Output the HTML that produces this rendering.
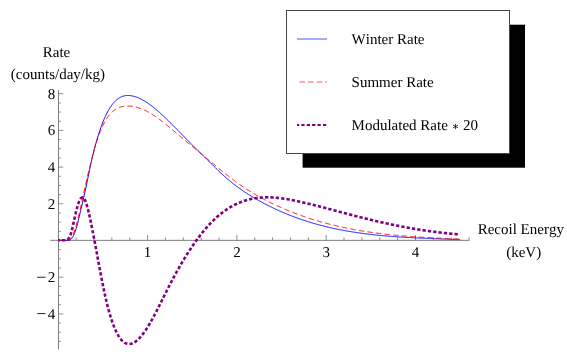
<!DOCTYPE html>
<html><head><meta charset="utf-8">
<style>
html,body{margin:0;padding:0;background:#fff;}
body{width:567px;height:360px;overflow:hidden;}
svg{display:block;}
text{font-family:"Liberation Serif",serif;font-size:15px;fill:#000;text-rendering:geometricPrecision;font-kerning:none;}
</style></head><body>
<svg width="567" height="360" viewBox="0 0 567 360">
<defs><filter id="idf" x="0" y="0" width="567" height="360" filterUnits="userSpaceOnUse"><feOffset dx="0" dy="0"/></filter></defs>
<rect width="567" height="360" fill="#fff"/>
<!-- axes -->
<g fill="none">
<path d="M50.3,240.35 H469.4" stroke="#7e7e7e" stroke-width="1"/>
<path d="M58.5,90.2 V349.3" stroke="#7e7e7e" stroke-width="1"/>
<path d="M76.16,240.30 v-3.0 M94.02,240.30 v-3.0 M111.88,240.30 v-3.0 M129.74,240.30 v-3.0 M147.60,240.30 v-5.3 M165.46,240.30 v-3.0 M183.32,240.30 v-3.0 M201.18,240.30 v-3.0 M219.04,240.30 v-3.0 M236.90,240.30 v-5.3 M254.76,240.30 v-3.0 M272.62,240.30 v-3.0 M290.48,240.30 v-3.0 M308.34,240.30 v-3.0 M326.20,240.30 v-5.3 M344.06,240.30 v-3.0 M361.92,240.30 v-3.0 M379.78,240.30 v-3.0 M397.64,240.30 v-3.0 M415.50,240.30 v-5.3 M433.36,240.30 v-3.0 M451.22,240.30 v-3.0 M469.08,240.30 v-3.0 M58.50,341.43 h2.4 M58.50,332.25 h2.4 M58.50,323.07 h2.4 M58.50,313.90 h4.8 M58.50,304.73 h2.4 M58.50,295.55 h2.4 M58.50,286.38 h2.4 M58.50,277.20 h4.8 M58.50,268.02 h2.4 M58.50,258.85 h2.4 M58.50,249.68 h2.4 M58.50,231.32 h2.4 M58.50,222.15 h2.4 M58.50,212.97 h2.4 M58.50,203.80 h4.8 M58.50,194.62 h2.4 M58.50,185.45 h2.4 M58.50,176.27 h2.4 M58.50,167.10 h4.8 M58.50,157.93 h2.4 M58.50,148.75 h2.4 M58.50,139.57 h2.4 M58.50,130.40 h4.8 M58.50,121.23 h2.4 M58.50,112.05 h2.4 M58.50,102.88 h2.4 M58.50,93.70 h4.8" stroke="#727272" stroke-width="0.8"/>
</g>
<!-- curves -->
<path d="M58.30,240.30 L58.75,240.30 L59.19,240.30 L59.64,240.30 L60.09,240.30 L60.54,240.30 L60.98,240.30 L61.43,240.30 L61.88,240.30 L62.32,240.29 L62.77,240.26 L63.22,240.24 L63.66,240.22 L64.11,240.21 L64.56,240.21 L65.01,240.21 L65.45,240.23 L65.90,240.26 L66.35,240.30 L66.79,240.30 L67.24,240.30 L67.69,240.30 L68.14,240.30 L68.58,240.30 L69.03,240.30 L69.48,240.24 L69.92,240.05 L70.37,239.80 L70.82,239.46 L71.26,239.04 L71.71,238.53 L72.16,237.92 L72.61,237.23 L73.05,236.45 L73.50,235.58 L73.95,234.62 L74.39,233.58 L74.84,232.44 L75.29,231.21 L75.74,229.90 L76.18,228.49 L76.63,226.99 L77.08,225.41 L77.52,223.73 L77.97,221.97 L78.42,220.15 L78.86,218.28 L79.31,216.38 L79.76,214.46 L80.21,212.53 L80.65,210.61 L81.10,208.71 L81.55,206.84 L81.99,204.97 L82.44,203.10 L82.89,201.22 L83.33,199.32 L83.78,197.40 L84.23,195.43 L84.68,193.42 L85.12,191.35 L85.57,189.24 L86.02,187.10 L86.46,184.93 L86.91,182.74 L87.36,180.53 L87.81,178.33 L88.25,176.13 L88.70,173.94 L89.15,171.77 L89.59,169.63 L90.04,167.53 L90.49,165.47 L90.93,163.44 L91.38,161.45 L91.83,159.50 L92.28,157.58 L92.72,155.70 L93.17,153.86 L93.62,152.05 L94.06,150.28 L94.51,148.55 L94.96,146.85 L95.41,145.18 L95.85,143.55 L96.30,141.95 L96.75,140.38 L97.19,138.85 L97.64,137.35 L98.09,135.89 L98.53,134.46 L98.98,133.05 L99.43,131.69 L99.88,130.35 L100.32,129.04 L100.77,127.77 L101.22,126.52 L101.66,125.30 L102.11,124.12 L102.56,122.96 L103.01,121.84 L103.45,120.74 L103.90,119.67 L104.35,118.63 L104.79,117.61 L105.24,116.63 L105.69,115.67 L106.13,114.74 L106.58,113.83 L107.03,112.96 L107.48,112.10 L107.92,111.28 L108.37,110.48 L108.82,109.70 L109.26,108.95 L109.71,108.22 L110.16,107.52 L110.61,106.84 L111.05,106.18 L111.50,105.55 L111.95,104.94 L112.39,104.35 L112.84,103.79 L113.29,103.24 L113.73,102.72 L114.18,102.22 L114.63,101.74 L115.08,101.28 L115.52,100.84 L115.97,100.42 L116.42,100.02 L116.86,99.64 L117.31,99.28 L117.76,98.94 L118.21,98.61 L118.65,98.31 L119.10,98.02 L119.55,97.75 L119.99,97.49 L120.44,97.26 L120.89,97.04 L121.33,96.83 L121.78,96.64 L122.23,96.47 L122.68,96.31 L123.12,96.17 L123.57,96.04 L124.02,95.92 L124.46,95.82 L124.91,95.73 L125.36,95.66 L125.80,95.60 L126.25,95.55 L126.70,95.51 L127.15,95.49 L127.59,95.47 L128.04,95.47 L128.49,95.48 L128.93,95.50 L129.38,95.53 L129.83,95.57 L130.28,95.62 L130.72,95.68 L131.17,95.75 L131.62,95.82 L132.06,95.91 L132.51,96.00 L132.96,96.11 L133.40,96.21 L133.85,96.33 L134.30,96.45 L134.75,96.58 L135.19,96.72 L135.64,96.87 L136.09,97.02 L136.53,97.17 L136.98,97.34 L137.43,97.51 L137.88,97.69 L138.32,97.87 L138.77,98.06 L139.22,98.26 L139.66,98.46 L140.11,98.67 L140.56,98.88 L141.00,99.11 L141.45,99.33 L141.90,99.56 L142.35,99.80 L142.79,100.05 L143.24,100.30 L143.69,100.55 L144.13,100.81 L144.58,101.08 L145.03,101.35 L145.48,101.62 L145.92,101.90 L146.37,102.19 L146.82,102.48 L147.26,102.78 L147.71,103.08 L148.16,103.38 L148.60,103.69 L149.05,104.01 L149.50,104.33 L149.95,104.65 L150.39,104.98 L150.84,105.31 L151.29,105.64 L151.73,105.98 L152.18,106.33 L152.63,106.68 L153.08,107.03 L153.52,107.38 L153.97,107.74 L154.42,108.11 L154.86,108.47 L155.31,108.84 L155.76,109.21 L156.20,109.59 L156.65,109.97 L157.10,110.35 L157.55,110.74 L157.99,111.13 L158.44,111.52 L158.89,111.91 L159.33,112.31 L159.78,112.71 L160.23,113.11 L160.67,113.52 L161.12,113.92 L161.57,114.33 L162.02,114.75 L162.46,115.16 L162.91,115.57 L163.36,115.99 L163.80,116.41 L164.25,116.83 L164.70,117.26 L165.15,117.68 L165.59,118.11 L166.04,118.54 L166.49,118.97 L166.93,119.40 L167.38,119.83 L167.83,120.27 L168.27,120.70 L168.72,121.14 L169.17,121.58 L169.62,122.02 L170.06,122.46 L170.51,122.90 L170.96,123.35 L171.40,123.79 L171.85,124.24 L172.30,124.68 L172.75,125.13 L173.19,125.58 L173.64,126.03 L174.09,126.48 L174.53,126.93 L174.98,127.38 L175.43,127.83 L175.87,128.29 L176.32,128.74 L176.77,129.20 L177.22,129.65 L177.66,130.11 L178.11,130.56 L178.56,131.02 L179.00,131.47 L179.45,131.93 L179.90,132.39 L180.35,132.85 L180.79,133.31 L181.24,133.76 L181.69,134.22 L182.13,134.68 L182.58,135.14 L183.03,135.60 L183.47,136.06 L183.92,136.51 L184.37,136.97 L184.82,137.43 L185.26,137.89 L185.71,138.35 L186.16,138.80 L186.60,139.26 L187.05,139.72 L187.50,140.18 L187.95,140.63 L188.39,141.09 L188.84,141.54 L189.29,142.00 L189.73,142.45 L190.18,142.90 L190.63,143.36 L191.07,143.81 L191.52,144.26 L191.97,144.71 L192.42,145.16 L192.86,145.61 L193.31,146.06 L193.76,146.50 L194.20,146.95 L194.65,147.39 L195.10,147.84 L195.55,148.28 L195.99,148.72 L196.44,149.16 L196.89,149.60 L197.33,150.04 L197.78,150.47 L198.23,150.91 L198.67,151.34 L199.12,151.78 L199.57,152.21 L200.02,152.63 L200.46,153.06 L200.91,153.49 L201.36,153.91 L201.80,154.34 L202.25,154.76 L202.70,155.19 L203.14,155.61 L203.59,156.04 L204.04,156.47 L204.49,156.90 L204.93,157.33 L205.38,157.76 L205.83,158.20 L206.27,158.64 L206.72,159.08 L207.17,159.52 L207.62,159.96 L208.06,160.41 L208.51,160.85 L208.96,161.30 L209.40,161.75 L209.85,162.20 L210.30,162.65 L210.74,163.10 L211.19,163.55 L211.64,164.00 L212.09,164.45 L212.53,164.90 L212.98,165.35 L213.43,165.80 L213.87,166.25 L214.32,166.70 L214.77,167.15 L215.22,167.59 L215.66,168.04 L216.11,168.49 L216.56,168.93 L217.00,169.37 L217.45,169.81 L217.90,170.25 L218.34,170.68 L218.79,171.12 L219.24,171.55 L219.69,171.98 L220.13,172.40 L220.58,172.82 L221.03,173.24 L221.47,173.66 L221.92,174.08 L222.37,174.49 L222.82,174.90 L223.26,175.30 L223.71,175.71 L224.16,176.11 L224.60,176.51 L225.05,176.90 L225.50,177.29 L225.94,177.69 L226.39,178.07 L226.84,178.46 L227.29,178.84 L227.73,179.22 L228.18,179.60 L228.63,179.97 L229.07,180.35 L229.52,180.72 L229.97,181.08 L230.42,181.45 L230.86,181.81 L231.31,182.17 L231.76,182.53 L232.20,182.89 L232.65,183.24 L233.10,183.59 L233.54,183.94 L233.99,184.29 L234.44,184.63 L234.89,184.97 L235.33,185.31 L235.78,185.65 L236.23,185.99 L236.67,186.32 L237.12,186.65 L237.57,186.98 L238.02,187.31 L238.46,187.63 L238.91,187.96 L239.36,188.28 L239.80,188.60 L240.25,188.91 L240.70,189.23 L241.14,189.54 L241.59,189.85 L242.04,190.16 L242.49,190.47 L242.93,190.77 L243.38,191.08 L243.83,191.38 L244.27,191.68 L244.72,191.98 L245.17,192.27 L245.61,192.57 L246.06,192.86 L246.51,193.15 L246.96,193.44 L247.40,193.73 L247.85,194.01 L248.30,194.30 L248.74,194.58 L249.19,194.86 L249.64,195.14 L250.09,195.42 L250.53,195.69 L250.98,195.97 L251.43,196.24 L251.87,196.51 L252.32,196.78 L252.77,197.05 L253.21,197.32 L253.66,197.58 L254.11,197.84 L254.56,198.11 L255.00,198.37 L255.45,198.63 L255.90,198.89 L256.34,199.14 L256.79,199.40 L257.24,199.65 L257.69,199.91 L258.13,200.16 L258.58,200.41 L259.03,200.66 L259.47,200.91 L259.92,201.16 L260.37,201.40 L260.81,201.65 L261.26,201.89 L261.71,202.13 L262.16,202.38 L262.60,202.62 L263.05,202.86 L263.50,203.09 L263.94,203.33 L264.39,203.57 L264.84,203.80 L265.29,204.04 L265.73,204.27 L266.18,204.50 L266.63,204.73 L267.07,204.96 L267.52,205.19 L267.97,205.41 L268.41,205.64 L268.86,205.86 L269.31,206.09 L269.76,206.31 L270.20,206.53 L270.65,206.75 L271.10,206.97 L271.54,207.19 L271.99,207.41 L272.44,207.62 L272.89,207.84 L273.33,208.05 L273.78,208.27 L274.23,208.48 L274.67,208.69 L275.12,208.90 L275.57,209.11 L276.01,209.31 L276.46,209.52 L276.91,209.73 L277.36,209.93 L277.80,210.13 L278.25,210.34 L278.70,210.54 L279.14,210.74 L279.59,210.94 L280.04,211.14 L280.48,211.33 L280.93,211.53 L281.38,211.73 L281.83,211.92 L282.27,212.11 L282.72,212.30 L283.17,212.50 L283.61,212.69 L284.06,212.88 L284.51,213.06 L284.96,213.25 L285.40,213.44 L285.85,213.62 L286.30,213.81 L286.74,213.99 L287.19,214.17 L287.64,214.35 L288.08,214.53 L288.53,214.71 L288.98,214.89 L289.43,215.07 L289.87,215.25 L290.32,215.42 L290.77,215.60 L291.21,215.77 L291.66,215.94 L292.11,216.12 L292.56,216.29 L293.00,216.46 L293.45,216.63 L293.90,216.79 L294.34,216.96 L294.79,217.13 L295.24,217.29 L295.68,217.46 L296.13,217.62 L296.58,217.78 L297.03,217.94 L297.47,218.11 L297.92,218.27 L298.37,218.42 L298.81,218.58 L299.26,218.74 L299.71,218.90 L300.16,219.05 L300.60,219.21 L301.05,219.36 L301.50,219.51 L301.94,219.66 L302.39,219.82 L302.84,219.97 L303.28,220.11 L303.73,220.26 L304.18,220.41 L304.63,220.56 L305.07,220.70 L305.52,220.85 L305.97,220.99 L306.41,221.14 L306.86,221.28 L307.31,221.42 L307.76,221.56 L308.20,221.70 L308.65,221.84 L309.10,221.98 L309.54,222.12 L309.99,222.25 L310.44,222.39 L310.88,222.52 L311.33,222.66 L311.78,222.79 L312.23,222.92 L312.67,223.06 L313.12,223.19 L313.57,223.32 L314.01,223.45 L314.46,223.58 L314.91,223.70 L315.36,223.83 L315.80,223.96 L316.25,224.08 L316.70,224.21 L317.14,224.33 L317.59,224.45 L318.04,224.58 L318.48,224.70 L318.93,224.82 L319.38,224.94 L319.83,225.06 L320.27,225.18 L320.72,225.29 L321.17,225.41 L321.61,225.53 L322.06,225.64 L322.51,225.76 L322.95,225.87 L323.40,225.99 L323.85,226.10 L324.30,226.21 L324.74,226.32 L325.19,226.43 L325.64,226.54 L326.08,226.65 L326.53,226.76 L326.98,226.87 L327.43,226.98 L327.87,227.08 L328.32,227.19 L328.77,227.29 L329.21,227.40 L329.66,227.50 L330.11,227.60 L330.55,227.70 L331.00,227.81 L331.45,227.91 L331.90,228.01 L332.34,228.11 L332.79,228.21 L333.24,228.30 L333.68,228.40 L334.13,228.50 L334.58,228.59 L335.03,228.69 L335.47,228.78 L335.92,228.88 L336.37,228.97 L336.81,229.06 L337.26,229.16 L337.71,229.25 L338.15,229.34 L338.60,229.43 L339.05,229.52 L339.50,229.61 L339.94,229.70 L340.39,229.78 L340.84,229.87 L341.28,229.96 L341.73,230.04 L342.18,230.13 L342.63,230.21 L343.07,230.30 L343.52,230.38 L343.97,230.46 L344.41,230.54 L344.86,230.63 L345.31,230.71 L345.75,230.79 L346.20,230.87 L346.65,230.95 L347.10,231.03 L347.54,231.10 L347.99,231.18 L348.44,231.26 L348.88,231.33 L349.33,231.41 L349.78,231.49 L350.23,231.56 L350.67,231.63 L351.12,231.71 L351.57,231.78 L352.01,231.85 L352.46,231.92 L352.91,232.00 L353.35,232.07 L353.80,232.14 L354.25,232.21 L354.70,232.28 L355.14,232.34 L355.59,232.41 L356.04,232.48 L356.48,232.55 L356.93,232.61 L357.38,232.68 L357.83,232.74 L358.27,232.81 L358.72,232.87 L359.17,232.94 L359.61,233.00 L360.06,233.06 L360.51,233.13 L360.95,233.19 L361.40,233.25 L361.85,233.31 L362.30,233.37 L362.74,233.43 L363.19,233.49 L363.64,233.55 L364.08,233.61 L364.53,233.67 L364.98,233.72 L365.42,233.78 L365.87,233.84 L366.32,233.89 L366.77,233.95 L367.21,234.00 L367.66,234.06 L368.11,234.11 L368.55,234.17 L369.00,234.22 L369.45,234.27 L369.90,234.33 L370.34,234.38 L370.79,234.43 L371.24,234.48 L371.68,234.53 L372.13,234.58 L372.58,234.63 L373.02,234.68 L373.47,234.73 L373.92,234.78 L374.37,234.83 L374.81,234.87 L375.26,234.92 L375.71,234.97 L376.15,235.01 L376.60,235.06 L377.05,235.11 L377.50,235.15 L377.94,235.20 L378.39,235.24 L378.84,235.29 L379.28,235.33 L379.73,235.37 L380.18,235.42 L380.62,235.46 L381.07,235.50 L381.52,235.54 L381.97,235.58 L382.41,235.63 L382.86,235.67 L383.31,235.71 L383.75,235.75 L384.20,235.79 L384.65,235.83 L385.10,235.87 L385.54,235.90 L385.99,235.94 L386.44,235.98 L386.88,236.02 L387.33,236.06 L387.78,236.09 L388.22,236.13 L388.67,236.17 L389.12,236.20 L389.57,236.24 L390.01,236.27 L390.46,236.31 L390.91,236.34 L391.35,236.38 L391.80,236.41 L392.25,236.44 L392.70,236.48 L393.14,236.51 L393.59,236.54 L394.04,236.58 L394.48,236.61 L394.93,236.64 L395.38,236.67 L395.82,236.70 L396.27,236.74 L396.72,236.77 L397.17,236.80 L397.61,236.83 L398.06,236.86 L398.51,236.89 L398.95,236.92 L399.40,236.95 L399.85,236.98 L400.29,237.00 L400.74,237.03 L401.19,237.06 L401.64,237.09 L402.08,237.12 L402.53,237.15 L402.98,237.17 L403.42,237.20 L403.87,237.23 L404.32,237.25 L404.77,237.28 L405.21,237.31 L405.66,237.33 L406.11,237.36 L406.55,237.38 L407.00,237.41 L407.45,237.43 L407.89,237.46 L408.34,237.48 L408.79,237.51 L409.24,237.53 L409.68,237.56 L410.13,237.58 L410.58,237.60 L411.02,237.63 L411.47,237.65 L411.92,237.67 L412.37,237.70 L412.81,237.72 L413.26,237.74 L413.71,237.76 L414.15,237.79 L414.60,237.81 L415.05,237.83 L415.49,237.85 L415.94,237.87 L416.39,237.90 L416.84,237.92 L417.28,237.94 L417.73,237.96 L418.18,237.98 L418.62,238.00 L419.07,238.02 L419.52,238.04 L419.97,238.06 L420.41,238.08 L420.86,238.10 L421.31,238.12 L421.75,238.14 L422.20,238.16 L422.65,238.18 L423.09,238.20 L423.54,238.22 L423.99,238.24 L424.44,238.26 L424.88,238.28 L425.33,238.30 L425.78,238.32 L426.22,238.33 L426.67,238.35 L427.12,238.37 L427.57,238.39 L428.01,238.41 L428.46,238.43 L428.91,238.45 L429.35,238.46 L429.80,238.48 L430.25,238.50 L430.69,238.52 L431.14,238.54 L431.59,238.55 L432.04,238.57 L432.48,238.59 L432.93,238.61 L433.38,238.62 L433.82,238.64 L434.27,238.66 L434.72,238.68 L435.17,238.69 L435.61,238.71 L436.06,238.73 L436.51,238.75 L436.95,238.76 L437.40,238.78 L437.85,238.80 L438.29,238.82 L438.74,238.83 L439.19,238.85 L439.64,238.87 L440.08,238.88 L440.53,238.90 L440.98,238.92 L441.42,238.94 L441.87,238.95 L442.32,238.97 L442.76,238.99 L443.21,239.01 L443.66,239.02 L444.11,239.04 L444.55,239.06 L445.00,239.07 L445.45,239.09 L445.89,239.11 L446.34,239.13 L446.79,239.14 L447.24,239.16 L447.68,239.18 L448.13,239.20 L448.58,239.21 L449.02,239.23 L449.47,239.25 L449.92,239.27 L450.36,239.28 L450.81,239.30 L451.26,239.32 L451.71,239.34 L452.15,239.36 L452.60,239.37 L453.05,239.39 L453.49,239.41 L453.94,239.43 L454.39,239.45 L454.84,239.47 L455.28,239.48 L455.73,239.50 L456.18,239.52 L456.62,239.54 L457.07,239.56 L457.52,239.58 L457.96,239.60 L458.41,239.62 L458.86,239.64 L459.31,239.66 L459.75,239.68 L460.20,239.70" fill="none" stroke="#0000ff" stroke-width="1"/>
<path d="M58.30,240.30 L58.75,240.30 L59.19,240.30 L59.64,240.30 L60.09,240.30 L60.54,240.30 L60.98,240.30 L61.43,240.30 L61.88,240.30 L62.32,240.30 L62.77,240.30 L63.22,240.30 L63.66,240.30 L64.11,240.30 L64.56,240.30 L65.01,240.30 L65.45,240.30 L65.90,240.30 L66.35,240.30 L66.79,240.30 L67.24,240.30 L67.69,240.30 L68.14,240.30 L68.58,240.17 L69.03,239.96 L69.48,239.70 L69.92,239.36 L70.37,238.95 L70.82,238.46 L71.26,237.87 L71.71,237.19 L72.16,236.41 L72.61,235.53 L73.05,234.55 L73.50,233.48 L73.95,232.33 L74.39,231.09 L74.84,229.77 L75.29,228.38 L75.74,226.92 L76.18,225.39 L76.63,223.80 L77.08,222.15 L77.52,220.45 L77.97,218.69 L78.42,216.89 L78.86,215.05 L79.31,213.17 L79.76,211.25 L80.21,209.31 L80.65,207.34 L81.10,205.34 L81.55,203.33 L81.99,201.31 L82.44,199.27 L82.89,197.23 L83.33,195.19 L83.78,193.15 L84.23,191.11 L84.68,189.08 L85.12,187.06 L85.57,185.05 L86.02,183.05 L86.46,181.06 L86.91,179.09 L87.36,177.12 L87.81,175.17 L88.25,173.24 L88.70,171.33 L89.15,169.43 L89.59,167.56 L90.04,165.70 L90.49,163.87 L90.93,162.06 L91.38,160.28 L91.83,158.52 L92.28,156.79 L92.72,155.09 L93.17,153.42 L93.62,151.77 L94.06,150.16 L94.51,148.59 L94.96,147.04 L95.41,145.54 L95.85,144.06 L96.30,142.63 L96.75,141.23 L97.19,139.87 L97.64,138.55 L98.09,137.26 L98.53,136.01 L98.98,134.78 L99.43,133.60 L99.88,132.45 L100.32,131.32 L100.77,130.24 L101.22,129.18 L101.66,128.16 L102.11,127.16 L102.56,126.20 L103.01,125.27 L103.45,124.36 L103.90,123.49 L104.35,122.64 L104.79,121.82 L105.24,121.03 L105.69,120.27 L106.13,119.53 L106.58,118.82 L107.03,118.14 L107.48,117.48 L107.92,116.84 L108.37,116.23 L108.82,115.64 L109.26,115.08 L109.71,114.54 L110.16,114.02 L110.61,113.52 L111.05,113.04 L111.50,112.59 L111.95,112.15 L112.39,111.74 L112.84,111.34 L113.29,110.96 L113.73,110.61 L114.18,110.27 L114.63,109.94 L115.08,109.64 L115.52,109.34 L115.97,109.07 L116.42,108.81 L116.86,108.57 L117.31,108.34 L117.76,108.12 L118.21,107.92 L118.65,107.73 L119.10,107.56 L119.55,107.39 L119.99,107.24 L120.44,107.10 L120.89,106.97 L121.33,106.85 L121.78,106.74 L122.23,106.64 L122.68,106.54 L123.12,106.46 L123.57,106.38 L124.02,106.31 L124.46,106.25 L124.91,106.20 L125.36,106.15 L125.80,106.11 L126.25,106.08 L126.70,106.05 L127.15,106.03 L127.59,106.02 L128.04,106.02 L128.49,106.02 L128.93,106.03 L129.38,106.04 L129.83,106.07 L130.28,106.10 L130.72,106.13 L131.17,106.18 L131.62,106.22 L132.06,106.28 L132.51,106.34 L132.96,106.41 L133.40,106.48 L133.85,106.56 L134.30,106.65 L134.75,106.74 L135.19,106.84 L135.64,106.94 L136.09,107.05 L136.53,107.17 L136.98,107.29 L137.43,107.42 L137.88,107.55 L138.32,107.69 L138.77,107.83 L139.22,107.98 L139.66,108.14 L140.11,108.30 L140.56,108.46 L141.00,108.63 L141.45,108.81 L141.90,108.99 L142.35,109.17 L142.79,109.36 L143.24,109.56 L143.69,109.76 L144.13,109.96 L144.58,110.17 L145.03,110.38 L145.48,110.60 L145.92,110.82 L146.37,111.05 L146.82,111.28 L147.26,111.52 L147.71,111.76 L148.16,112.00 L148.60,112.25 L149.05,112.50 L149.50,112.76 L149.95,113.02 L150.39,113.28 L150.84,113.55 L151.29,113.82 L151.73,114.09 L152.18,114.37 L152.63,114.65 L153.08,114.94 L153.52,115.23 L153.97,115.52 L154.42,115.82 L154.86,116.11 L155.31,116.42 L155.76,116.72 L156.20,117.03 L156.65,117.34 L157.10,117.65 L157.55,117.97 L157.99,118.29 L158.44,118.61 L158.89,118.94 L159.33,119.26 L159.78,119.59 L160.23,119.93 L160.67,120.26 L161.12,120.60 L161.57,120.94 L162.02,121.28 L162.46,121.62 L162.91,121.97 L163.36,122.32 L163.80,122.67 L164.25,123.02 L164.70,123.37 L165.15,123.73 L165.59,124.09 L166.04,124.45 L166.49,124.81 L166.93,125.17 L167.38,125.53 L167.83,125.90 L168.27,126.26 L168.72,126.63 L169.17,127.00 L169.62,127.37 L170.06,127.74 L170.51,128.11 L170.96,128.48 L171.40,128.86 L171.85,129.23 L172.30,129.61 L172.75,129.99 L173.19,130.36 L173.64,130.74 L174.09,131.12 L174.53,131.50 L174.98,131.88 L175.43,132.26 L175.87,132.64 L176.32,133.02 L176.77,133.40 L177.22,133.78 L177.66,134.16 L178.11,134.54 L178.56,134.92 L179.00,135.30 L179.45,135.68 L179.90,136.06 L180.35,136.43 L180.79,136.81 L181.24,137.19 L181.69,137.57 L182.13,137.95 L182.58,138.32 L183.03,138.70 L183.47,139.08 L183.92,139.45 L184.37,139.83 L184.82,140.20 L185.26,140.58 L185.71,140.95 L186.16,141.32 L186.60,141.70 L187.05,142.07 L187.50,142.44 L187.95,142.81 L188.39,143.19 L188.84,143.56 L189.29,143.93 L189.73,144.30 L190.18,144.67 L190.63,145.04 L191.07,145.41 L191.52,145.78 L191.97,146.15 L192.42,146.52 L192.86,146.89 L193.31,147.26 L193.76,147.63 L194.20,148.00 L194.65,148.37 L195.10,148.74 L195.55,149.11 L195.99,149.48 L196.44,149.85 L196.89,150.22 L197.33,150.59 L197.78,150.96 L198.23,151.33 L198.67,151.70 L199.12,152.06 L199.57,152.43 L200.02,152.80 L200.46,153.17 L200.91,153.54 L201.36,153.91 L201.80,154.28 L202.25,154.65 L202.70,155.02 L203.14,155.39 L203.59,155.76 L204.04,156.13 L204.49,156.50 L204.93,156.87 L205.38,157.24 L205.83,157.62 L206.27,157.99 L206.72,158.36 L207.17,158.73 L207.62,159.10 L208.06,159.48 L208.51,159.85 L208.96,160.22 L209.40,160.59 L209.85,160.96 L210.30,161.34 L210.74,161.71 L211.19,162.08 L211.64,162.45 L212.09,162.82 L212.53,163.20 L212.98,163.57 L213.43,163.94 L213.87,164.31 L214.32,164.68 L214.77,165.05 L215.22,165.42 L215.66,165.79 L216.11,166.16 L216.56,166.53 L217.00,166.90 L217.45,167.26 L217.90,167.63 L218.34,168.00 L218.79,168.37 L219.24,168.73 L219.69,169.10 L220.13,169.46 L220.58,169.83 L221.03,170.19 L221.47,170.56 L221.92,170.92 L222.37,171.28 L222.82,171.64 L223.26,172.00 L223.71,172.36 L224.16,172.72 L224.60,173.08 L225.05,173.43 L225.50,173.79 L225.94,174.15 L226.39,174.50 L226.84,174.85 L227.29,175.21 L227.73,175.56 L228.18,175.91 L228.63,176.26 L229.07,176.61 L229.52,176.95 L229.97,177.30 L230.42,177.65 L230.86,177.99 L231.31,178.33 L231.76,178.67 L232.20,179.01 L232.65,179.35 L233.10,179.69 L233.54,180.03 L233.99,180.36 L234.44,180.70 L234.89,181.03 L235.33,181.36 L235.78,181.69 L236.23,182.02 L236.67,182.34 L237.12,182.67 L237.57,182.99 L238.02,183.31 L238.46,183.63 L238.91,183.95 L239.36,184.27 L239.80,184.58 L240.25,184.90 L240.70,185.21 L241.14,185.52 L241.59,185.83 L242.04,186.13 L242.49,186.44 L242.93,186.74 L243.38,187.05 L243.83,187.35 L244.27,187.64 L244.72,187.94 L245.17,188.24 L245.61,188.53 L246.06,188.82 L246.51,189.11 L246.96,189.40 L247.40,189.69 L247.85,189.98 L248.30,190.26 L248.74,190.55 L249.19,190.83 L249.64,191.11 L250.09,191.39 L250.53,191.66 L250.98,191.94 L251.43,192.21 L251.87,192.48 L252.32,192.76 L252.77,193.03 L253.21,193.29 L253.66,193.56 L254.11,193.83 L254.56,194.09 L255.00,194.35 L255.45,194.61 L255.90,194.87 L256.34,195.13 L256.79,195.39 L257.24,195.65 L257.69,195.90 L258.13,196.15 L258.58,196.41 L259.03,196.66 L259.47,196.90 L259.92,197.15 L260.37,197.40 L260.81,197.64 L261.26,197.89 L261.71,198.13 L262.16,198.37 L262.60,198.61 L263.05,198.85 L263.50,199.09 L263.94,199.33 L264.39,199.56 L264.84,199.80 L265.29,200.03 L265.73,200.26 L266.18,200.49 L266.63,200.72 L267.07,200.95 L267.52,201.18 L267.97,201.40 L268.41,201.63 L268.86,201.85 L269.31,202.07 L269.76,202.30 L270.20,202.52 L270.65,202.74 L271.10,202.95 L271.54,203.17 L271.99,203.39 L272.44,203.60 L272.89,203.82 L273.33,204.03 L273.78,204.24 L274.23,204.45 L274.67,204.66 L275.12,204.87 L275.57,205.08 L276.01,205.29 L276.46,205.50 L276.91,205.70 L277.36,205.90 L277.80,206.11 L278.25,206.31 L278.70,206.51 L279.14,206.71 L279.59,206.91 L280.04,207.11 L280.48,207.31 L280.93,207.51 L281.38,207.70 L281.83,207.90 L282.27,208.09 L282.72,208.29 L283.17,208.48 L283.61,208.67 L284.06,208.86 L284.51,209.05 L284.96,209.24 L285.40,209.43 L285.85,209.62 L286.30,209.81 L286.74,209.99 L287.19,210.18 L287.64,210.36 L288.08,210.54 L288.53,210.73 L288.98,210.91 L289.43,211.09 L289.87,211.27 L290.32,211.45 L290.77,211.63 L291.21,211.80 L291.66,211.98 L292.11,212.16 L292.56,212.33 L293.00,212.51 L293.45,212.68 L293.90,212.85 L294.34,213.03 L294.79,213.20 L295.24,213.37 L295.68,213.54 L296.13,213.70 L296.58,213.87 L297.03,214.04 L297.47,214.21 L297.92,214.37 L298.37,214.54 L298.81,214.70 L299.26,214.86 L299.71,215.02 L300.16,215.19 L300.60,215.35 L301.05,215.51 L301.50,215.67 L301.94,215.82 L302.39,215.98 L302.84,216.14 L303.28,216.29 L303.73,216.45 L304.18,216.60 L304.63,216.76 L305.07,216.91 L305.52,217.06 L305.97,217.22 L306.41,217.37 L306.86,217.52 L307.31,217.67 L307.76,217.81 L308.20,217.96 L308.65,218.11 L309.10,218.25 L309.54,218.40 L309.99,218.54 L310.44,218.69 L310.88,218.83 L311.33,218.97 L311.78,219.12 L312.23,219.26 L312.67,219.40 L313.12,219.54 L313.57,219.68 L314.01,219.82 L314.46,219.95 L314.91,220.09 L315.36,220.23 L315.80,220.36 L316.25,220.50 L316.70,220.63 L317.14,220.76 L317.59,220.90 L318.04,221.03 L318.48,221.16 L318.93,221.29 L319.38,221.42 L319.83,221.55 L320.27,221.68 L320.72,221.80 L321.17,221.93 L321.61,222.06 L322.06,222.18 L322.51,222.31 L322.95,222.43 L323.40,222.56 L323.85,222.68 L324.30,222.80 L324.74,222.92 L325.19,223.04 L325.64,223.16 L326.08,223.28 L326.53,223.40 L326.98,223.52 L327.43,223.64 L327.87,223.76 L328.32,223.87 L328.77,223.99 L329.21,224.10 L329.66,224.22 L330.11,224.33 L330.55,224.44 L331.00,224.56 L331.45,224.67 L331.90,224.78 L332.34,224.89 L332.79,225.00 L333.24,225.11 L333.68,225.22 L334.13,225.33 L334.58,225.43 L335.03,225.54 L335.47,225.65 L335.92,225.75 L336.37,225.86 L336.81,225.96 L337.26,226.07 L337.71,226.17 L338.15,226.27 L338.60,226.37 L339.05,226.48 L339.50,226.58 L339.94,226.68 L340.39,226.78 L340.84,226.87 L341.28,226.97 L341.73,227.07 L342.18,227.17 L342.63,227.27 L343.07,227.36 L343.52,227.46 L343.97,227.55 L344.41,227.65 L344.86,227.74 L345.31,227.83 L345.75,227.93 L346.20,228.02 L346.65,228.11 L347.10,228.20 L347.54,228.29 L347.99,228.38 L348.44,228.47 L348.88,228.56 L349.33,228.65 L349.78,228.74 L350.23,228.82 L350.67,228.91 L351.12,228.99 L351.57,229.08 L352.01,229.17 L352.46,229.25 L352.91,229.33 L353.35,229.42 L353.80,229.50 L354.25,229.58 L354.70,229.66 L355.14,229.75 L355.59,229.83 L356.04,229.91 L356.48,229.99 L356.93,230.07 L357.38,230.14 L357.83,230.22 L358.27,230.30 L358.72,230.38 L359.17,230.45 L359.61,230.53 L360.06,230.61 L360.51,230.68 L360.95,230.76 L361.40,230.83 L361.85,230.90 L362.30,230.98 L362.74,231.05 L363.19,231.12 L363.64,231.19 L364.08,231.26 L364.53,231.34 L364.98,231.41 L365.42,231.48 L365.87,231.54 L366.32,231.61 L366.77,231.68 L367.21,231.75 L367.66,231.82 L368.11,231.88 L368.55,231.95 L369.00,232.02 L369.45,232.08 L369.90,232.15 L370.34,232.21 L370.79,232.28 L371.24,232.34 L371.68,232.41 L372.13,232.47 L372.58,232.53 L373.02,232.59 L373.47,232.65 L373.92,232.72 L374.37,232.78 L374.81,232.84 L375.26,232.90 L375.71,232.96 L376.15,233.02 L376.60,233.07 L377.05,233.13 L377.50,233.19 L377.94,233.25 L378.39,233.31 L378.84,233.36 L379.28,233.42 L379.73,233.47 L380.18,233.53 L380.62,233.58 L381.07,233.64 L381.52,233.69 L381.97,233.75 L382.41,233.80 L382.86,233.85 L383.31,233.91 L383.75,233.96 L384.20,234.01 L384.65,234.06 L385.10,234.11 L385.54,234.16 L385.99,234.22 L386.44,234.27 L386.88,234.31 L387.33,234.36 L387.78,234.41 L388.22,234.46 L388.67,234.51 L389.12,234.56 L389.57,234.61 L390.01,234.65 L390.46,234.70 L390.91,234.75 L391.35,234.79 L391.80,234.84 L392.25,234.88 L392.70,234.93 L393.14,234.97 L393.59,235.02 L394.04,235.06 L394.48,235.10 L394.93,235.15 L395.38,235.19 L395.82,235.23 L396.27,235.28 L396.72,235.32 L397.17,235.36 L397.61,235.40 L398.06,235.44 L398.51,235.48 L398.95,235.52 L399.40,235.56 L399.85,235.60 L400.29,235.64 L400.74,235.68 L401.19,235.72 L401.64,235.76 L402.08,235.80 L402.53,235.84 L402.98,235.87 L403.42,235.91 L403.87,235.95 L404.32,235.99 L404.77,236.02 L405.21,236.06 L405.66,236.10 L406.11,236.13 L406.55,236.17 L407.00,236.20 L407.45,236.24 L407.89,236.27 L408.34,236.31 L408.79,236.34 L409.24,236.37 L409.68,236.41 L410.13,236.44 L410.58,236.47 L411.02,236.51 L411.47,236.54 L411.92,236.57 L412.37,236.60 L412.81,236.64 L413.26,236.67 L413.71,236.70 L414.15,236.73 L414.60,236.76 L415.05,236.79 L415.49,236.82 L415.94,236.85 L416.39,236.88 L416.84,236.91 L417.28,236.94 L417.73,236.97 L418.18,237.00 L418.62,237.03 L419.07,237.06 L419.52,237.09 L419.97,237.11 L420.41,237.14 L420.86,237.17 L421.31,237.20 L421.75,237.23 L422.20,237.25 L422.65,237.28 L423.09,237.31 L423.54,237.33 L423.99,237.36 L424.44,237.39 L424.88,237.41 L425.33,237.44 L425.78,237.46 L426.22,237.49 L426.67,237.51 L427.12,237.54 L427.57,237.56 L428.01,237.59 L428.46,237.61 L428.91,237.64 L429.35,237.66 L429.80,237.69 L430.25,237.71 L430.69,237.73 L431.14,237.76 L431.59,237.78 L432.04,237.80 L432.48,237.83 L432.93,237.85 L433.38,237.87 L433.82,237.90 L434.27,237.92 L434.72,237.94 L435.17,237.96 L435.61,237.98 L436.06,238.01 L436.51,238.03 L436.95,238.05 L437.40,238.07 L437.85,238.09 L438.29,238.12 L438.74,238.14 L439.19,238.16 L439.64,238.18 L440.08,238.20 L440.53,238.22 L440.98,238.24 L441.42,238.26 L441.87,238.28 L442.32,238.30 L442.76,238.32 L443.21,238.34 L443.66,238.36 L444.11,238.38 L444.55,238.40 L445.00,238.42 L445.45,238.44 L445.89,238.46 L446.34,238.48 L446.79,238.50 L447.24,238.52 L447.68,238.54 L448.13,238.56 L448.58,238.58 L449.02,238.60 L449.47,238.61 L449.92,238.63 L450.36,238.65 L450.81,238.67 L451.26,238.69 L451.71,238.71 L452.15,238.73 L452.60,238.75 L453.05,238.76 L453.49,238.78 L453.94,238.80 L454.39,238.82 L454.84,238.84 L455.28,238.86 L455.73,238.87 L456.18,238.89 L456.62,238.91 L457.07,238.93 L457.52,238.95 L457.96,238.96 L458.41,238.98 L458.86,239.00 L459.31,239.02 L459.75,239.04 L460.20,239.05" fill="none" stroke="#ff0000" stroke-width="1" stroke-dasharray="5.4 3.23" stroke-dashoffset="8.46"/>
<path d="M58.30,240.31 L58.75,240.25 L59.19,240.22 L59.64,240.20 L60.09,240.20 L60.54,240.21 L60.98,240.22 L61.43,240.24 L61.88,240.26 L62.32,240.28 L62.77,240.29 L63.22,240.30 L63.66,240.30 L64.11,240.28 L64.56,240.25 L65.01,240.21 L65.45,240.14 L65.90,240.05 L66.35,239.93 L66.79,239.78 L67.24,239.59 L67.69,239.34 L68.14,239.01 L68.58,238.56 L69.03,237.97 L69.48,237.23 L69.92,236.30 L70.37,235.16 L70.82,233.82 L71.26,232.31 L71.71,230.65 L72.16,228.87 L72.61,226.98 L73.05,225.02 L73.50,223.00 L73.95,220.96 L74.39,218.90 L74.84,216.86 L75.29,214.86 L75.74,212.93 L76.18,211.08 L76.63,209.32 L77.08,207.67 L77.52,206.12 L77.97,204.68 L78.42,203.35 L78.86,202.15 L79.31,201.07 L79.76,200.12 L80.21,199.31 L80.65,198.63 L81.10,198.11 L81.55,197.73 L81.99,197.51 L82.44,197.45 L82.89,197.55 L83.33,197.83 L83.78,198.27 L84.23,198.88 L84.68,199.65 L85.12,200.57 L85.57,201.62 L86.02,202.81 L86.46,204.13 L86.91,205.57 L87.36,207.11 L87.81,208.76 L88.25,210.51 L88.70,212.34 L89.15,214.25 L89.59,216.24 L90.04,218.29 L90.49,220.40 L90.93,222.55 L91.38,224.75 L91.83,226.99 L92.28,229.25 L92.72,231.54 L93.17,233.85 L93.62,236.18 L94.06,238.53 L94.51,240.89 L94.96,243.27 L95.41,245.66 L95.85,248.05 L96.30,250.45 L96.75,252.86 L97.19,255.27 L97.64,257.67 L98.09,260.08 L98.53,262.47 L98.98,264.86 L99.43,267.24 L99.88,269.61 L100.32,271.96 L100.77,274.29 L101.22,276.60 L101.66,278.89 L102.11,281.16 L102.56,283.40 L103.01,285.61 L103.45,287.79 L103.90,289.93 L104.35,292.04 L104.79,294.11 L105.24,296.14 L105.69,298.12 L106.13,300.06 L106.58,301.95 L107.03,303.79 L107.48,305.59 L107.92,307.33 L108.37,309.03 L108.82,310.68 L109.26,312.29 L109.71,313.85 L110.16,315.36 L110.61,316.83 L111.05,318.25 L111.50,319.63 L111.95,320.97 L112.39,322.26 L112.84,323.51 L113.29,324.72 L113.73,325.89 L114.18,327.01 L114.63,328.10 L115.08,329.14 L115.52,330.14 L115.97,331.11 L116.42,332.03 L116.86,332.92 L117.31,333.77 L117.76,334.58 L118.21,335.35 L118.65,336.09 L119.10,336.79 L119.55,337.46 L119.99,338.09 L120.44,338.68 L120.89,339.24 L121.33,339.77 L121.78,340.26 L122.23,340.72 L122.68,341.15 L123.12,341.55 L123.57,341.91 L124.02,342.24 L124.46,342.55 L124.91,342.82 L125.36,343.06 L125.80,343.27 L126.25,343.46 L126.70,343.61 L127.15,343.74 L127.59,343.84 L128.04,343.92 L128.49,343.96 L128.93,343.98 L129.38,343.98 L129.83,343.95 L130.28,343.90 L130.72,343.82 L131.17,343.72 L131.62,343.59 L132.06,343.44 L132.51,343.27 L132.96,343.08 L133.40,342.87 L133.85,342.63 L134.30,342.38 L134.75,342.10 L135.19,341.81 L135.64,341.50 L136.09,341.16 L136.53,340.81 L136.98,340.44 L137.43,340.06 L137.88,339.65 L138.32,339.23 L138.77,338.79 L139.22,338.34 L139.66,337.87 L140.11,337.38 L140.56,336.88 L141.00,336.36 L141.45,335.83 L141.90,335.28 L142.35,334.71 L142.79,334.14 L143.24,333.55 L143.69,332.94 L144.13,332.32 L144.58,331.69 L145.03,331.05 L145.48,330.40 L145.92,329.73 L146.37,329.05 L146.82,328.36 L147.26,327.66 L147.71,326.94 L148.16,326.22 L148.60,325.49 L149.05,324.74 L149.50,323.99 L149.95,323.23 L150.39,322.46 L150.84,321.68 L151.29,320.89 L151.73,320.09 L152.18,319.29 L152.63,318.48 L153.08,317.66 L153.52,316.83 L153.97,316.00 L154.42,315.16 L154.86,314.32 L155.31,313.47 L155.76,312.61 L156.20,311.75 L156.65,310.89 L157.10,310.02 L157.55,309.14 L157.99,308.26 L158.44,307.38 L158.89,306.50 L159.33,305.61 L159.78,304.72 L160.23,303.83 L160.67,302.94 L161.12,302.04 L161.57,301.15 L162.02,300.25 L162.46,299.35 L162.91,298.45 L163.36,297.55 L163.80,296.65 L164.25,295.75 L164.70,294.86 L165.15,293.96 L165.59,293.06 L166.04,292.17 L166.49,291.28 L166.93,290.39 L167.38,289.50 L167.83,288.62 L168.27,287.74 L168.72,286.86 L169.17,285.99 L169.62,285.12 L170.06,284.25 L170.51,283.39 L170.96,282.53 L171.40,281.68 L171.85,280.83 L172.30,279.98 L172.75,279.14 L173.19,278.30 L173.64,277.47 L174.09,276.64 L174.53,275.81 L174.98,274.99 L175.43,274.17 L175.87,273.35 L176.32,272.54 L176.77,271.73 L177.22,270.93 L177.66,270.13 L178.11,269.34 L178.56,268.55 L179.00,267.76 L179.45,266.98 L179.90,266.20 L180.35,265.43 L180.79,264.66 L181.24,263.89 L181.69,263.13 L182.13,262.37 L182.58,261.62 L183.03,260.87 L183.47,260.12 L183.92,259.38 L184.37,258.64 L184.82,257.91 L185.26,257.18 L185.71,256.46 L186.16,255.74 L186.60,255.02 L187.05,254.31 L187.50,253.61 L187.95,252.90 L188.39,252.20 L188.84,251.51 L189.29,250.82 L189.73,250.14 L190.18,249.45 L190.63,248.78 L191.07,248.11 L191.52,247.44 L191.97,246.77 L192.42,246.11 L192.86,245.46 L193.31,244.81 L193.76,244.16 L194.20,243.52 L194.65,242.89 L195.10,242.25 L195.55,241.63 L195.99,241.00 L196.44,240.38 L196.89,239.77 L197.33,239.16 L197.78,238.55 L198.23,237.95 L198.67,237.36 L199.12,236.77 L199.57,236.18 L200.02,235.60 L200.46,235.02 L200.91,234.45 L201.36,233.88 L201.80,233.31 L202.25,232.75 L202.70,232.20 L203.14,231.65 L203.59,231.10 L204.04,230.56 L204.49,230.03 L204.93,229.50 L205.38,228.97 L205.83,228.45 L206.27,227.93 L206.72,227.42 L207.17,226.91 L207.62,226.41 L208.06,225.91 L208.51,225.42 L208.96,224.93 L209.40,224.45 L209.85,223.97 L210.30,223.50 L210.74,223.03 L211.19,222.57 L211.64,222.11 L212.09,221.66 L212.53,221.21 L212.98,220.76 L213.43,220.33 L213.87,219.89 L214.32,219.46 L214.77,219.04 L215.22,218.62 L215.66,218.21 L216.11,217.80 L216.56,217.39 L217.00,216.99 L217.45,216.60 L217.90,216.21 L218.34,215.82 L218.79,215.44 L219.24,215.07 L219.69,214.70 L220.13,214.33 L220.58,213.97 L221.03,213.61 L221.47,213.26 L221.92,212.91 L222.37,212.57 L222.82,212.23 L223.26,211.89 L223.71,211.56 L224.16,211.24 L224.60,210.92 L225.05,210.60 L225.50,210.29 L225.94,209.98 L226.39,209.68 L226.84,209.38 L227.29,209.08 L227.73,208.79 L228.18,208.51 L228.63,208.22 L229.07,207.95 L229.52,207.67 L229.97,207.40 L230.42,207.14 L230.86,206.88 L231.31,206.62 L231.76,206.37 L232.20,206.12 L232.65,205.87 L233.10,205.63 L233.54,205.39 L233.99,205.16 L234.44,204.93 L234.89,204.71 L235.33,204.49 L235.78,204.27 L236.23,204.05 L236.67,203.84 L237.12,203.64 L237.57,203.44 L238.02,203.24 L238.46,203.04 L238.91,202.85 L239.36,202.66 L239.80,202.48 L240.25,202.30 L240.70,202.12 L241.14,201.95 L241.59,201.78 L242.04,201.62 L242.49,201.46 L242.93,201.30 L243.38,201.14 L243.83,200.99 L244.27,200.84 L244.72,200.70 L245.17,200.56 L245.61,200.42 L246.06,200.28 L246.51,200.15 L246.96,200.02 L247.40,199.90 L247.85,199.78 L248.30,199.66 L248.74,199.54 L249.19,199.43 L249.64,199.32 L250.09,199.22 L250.53,199.12 L250.98,199.02 L251.43,198.92 L251.87,198.83 L252.32,198.74 L252.77,198.65 L253.21,198.57 L253.66,198.49 L254.11,198.41 L254.56,198.33 L255.00,198.26 L255.45,198.19 L255.90,198.12 L256.34,198.06 L256.79,198.00 L257.24,197.94 L257.69,197.89 L258.13,197.83 L258.58,197.78 L259.03,197.74 L259.47,197.69 L259.92,197.65 L260.37,197.61 L260.81,197.57 L261.26,197.54 L261.71,197.51 L262.16,197.48 L262.60,197.45 L263.05,197.43 L263.50,197.41 L263.94,197.39 L264.39,197.37 L264.84,197.36 L265.29,197.34 L265.73,197.34 L266.18,197.33 L266.63,197.32 L267.07,197.32 L267.52,197.32 L267.97,197.32 L268.41,197.33 L268.86,197.33 L269.31,197.34 L269.76,197.35 L270.20,197.36 L270.65,197.38 L271.10,197.40 L271.54,197.42 L271.99,197.44 L272.44,197.46 L272.89,197.48 L273.33,197.51 L273.78,197.54 L274.23,197.57 L274.67,197.60 L275.12,197.64 L275.57,197.68 L276.01,197.71 L276.46,197.75 L276.91,197.80 L277.36,197.84 L277.80,197.88 L278.25,197.93 L278.70,197.98 L279.14,198.03 L279.59,198.08 L280.04,198.14 L280.48,198.19 L280.93,198.25 L281.38,198.31 L281.83,198.37 L282.27,198.43 L282.72,198.49 L283.17,198.55 L283.61,198.62 L284.06,198.69 L284.51,198.75 L284.96,198.82 L285.40,198.89 L285.85,198.97 L286.30,199.04 L286.74,199.11 L287.19,199.19 L287.64,199.27 L288.08,199.34 L288.53,199.42 L288.98,199.50 L289.43,199.58 L289.87,199.67 L290.32,199.75 L290.77,199.83 L291.21,199.92 L291.66,200.00 L292.11,200.09 L292.56,200.18 L293.00,200.27 L293.45,200.36 L293.90,200.45 L294.34,200.54 L294.79,200.63 L295.24,200.73 L295.68,200.82 L296.13,200.91 L296.58,201.01 L297.03,201.10 L297.47,201.20 L297.92,201.30 L298.37,201.40 L298.81,201.49 L299.26,201.59 L299.71,201.69 L300.16,201.79 L300.60,201.89 L301.05,201.99 L301.50,202.09 L301.94,202.19 L302.39,202.30 L302.84,202.40 L303.28,202.50 L303.73,202.60 L304.18,202.71 L304.63,202.81 L305.07,202.92 L305.52,203.02 L305.97,203.13 L306.41,203.23 L306.86,203.34 L307.31,203.44 L307.76,203.55 L308.20,203.66 L308.65,203.77 L309.10,203.87 L309.54,203.98 L309.99,204.09 L310.44,204.20 L310.88,204.31 L311.33,204.42 L311.78,204.53 L312.23,204.64 L312.67,204.75 L313.12,204.86 L313.57,204.97 L314.01,205.08 L314.46,205.19 L314.91,205.31 L315.36,205.42 L315.80,205.53 L316.25,205.64 L316.70,205.76 L317.14,205.87 L317.59,205.98 L318.04,206.10 L318.48,206.21 L318.93,206.33 L319.38,206.44 L319.83,206.56 L320.27,206.67 L320.72,206.79 L321.17,206.90 L321.61,207.02 L322.06,207.13 L322.51,207.25 L322.95,207.37 L323.40,207.48 L323.85,207.60 L324.30,207.72 L324.74,207.83 L325.19,207.95 L325.64,208.07 L326.08,208.19 L326.53,208.31 L326.98,208.42 L327.43,208.54 L327.87,208.66 L328.32,208.78 L328.77,208.90 L329.21,209.01 L329.66,209.13 L330.11,209.25 L330.55,209.37 L331.00,209.49 L331.45,209.61 L331.90,209.73 L332.34,209.85 L332.79,209.97 L333.24,210.09 L333.68,210.21 L334.13,210.33 L334.58,210.45 L335.03,210.57 L335.47,210.68 L335.92,210.80 L336.37,210.92 L336.81,211.04 L337.26,211.16 L337.71,211.28 L338.15,211.40 L338.60,211.52 L339.05,211.64 L339.50,211.76 L339.94,211.88 L340.39,212.00 L340.84,212.12 L341.28,212.24 L341.73,212.36 L342.18,212.48 L342.63,212.60 L343.07,212.72 L343.52,212.84 L343.97,212.96 L344.41,213.08 L344.86,213.20 L345.31,213.32 L345.75,213.44 L346.20,213.56 L346.65,213.68 L347.10,213.79 L347.54,213.91 L347.99,214.03 L348.44,214.15 L348.88,214.27 L349.33,214.39 L349.78,214.51 L350.23,214.62 L350.67,214.74 L351.12,214.86 L351.57,214.98 L352.01,215.10 L352.46,215.21 L352.91,215.33 L353.35,215.45 L353.80,215.56 L354.25,215.68 L354.70,215.80 L355.14,215.91 L355.59,216.03 L356.04,216.15 L356.48,216.26 L356.93,216.38 L357.38,216.49 L357.83,216.61 L358.27,216.72 L358.72,216.84 L359.17,216.95 L359.61,217.06 L360.06,217.18 L360.51,217.29 L360.95,217.41 L361.40,217.52 L361.85,217.63 L362.30,217.74 L362.74,217.86 L363.19,217.97 L363.64,218.08 L364.08,218.19 L364.53,218.30 L364.98,218.41 L365.42,218.52 L365.87,218.63 L366.32,218.74 L366.77,218.85 L367.21,218.96 L367.66,219.07 L368.11,219.18 L368.55,219.29 L369.00,219.40 L369.45,219.51 L369.90,219.62 L370.34,219.72 L370.79,219.83 L371.24,219.94 L371.68,220.04 L372.13,220.15 L372.58,220.26 L373.02,220.36 L373.47,220.47 L373.92,220.57 L374.37,220.68 L374.81,220.78 L375.26,220.89 L375.71,220.99 L376.15,221.10 L376.60,221.20 L377.05,221.30 L377.50,221.41 L377.94,221.51 L378.39,221.61 L378.84,221.71 L379.28,221.82 L379.73,221.92 L380.18,222.02 L380.62,222.12 L381.07,222.22 L381.52,222.32 L381.97,222.42 L382.41,222.52 L382.86,222.62 L383.31,222.72 L383.75,222.82 L384.20,222.92 L384.65,223.02 L385.10,223.11 L385.54,223.21 L385.99,223.31 L386.44,223.41 L386.88,223.50 L387.33,223.60 L387.78,223.69 L388.22,223.79 L388.67,223.89 L389.12,223.98 L389.57,224.08 L390.01,224.17 L390.46,224.26 L390.91,224.36 L391.35,224.45 L391.80,224.55 L392.25,224.64 L392.70,224.73 L393.14,224.82 L393.59,224.91 L394.04,225.01 L394.48,225.10 L394.93,225.19 L395.38,225.28 L395.82,225.37 L396.27,225.46 L396.72,225.55 L397.17,225.64 L397.61,225.73 L398.06,225.82 L398.51,225.90 L398.95,225.99 L399.40,226.08 L399.85,226.17 L400.29,226.25 L400.74,226.34 L401.19,226.43 L401.64,226.51 L402.08,226.60 L402.53,226.68 L402.98,226.77 L403.42,226.85 L403.87,226.94 L404.32,227.02 L404.77,227.10 L405.21,227.19 L405.66,227.27 L406.11,227.35 L406.55,227.43 L407.00,227.52 L407.45,227.60 L407.89,227.68 L408.34,227.76 L408.79,227.84 L409.24,227.92 L409.68,228.00 L410.13,228.08 L410.58,228.16 L411.02,228.24 L411.47,228.31 L411.92,228.39 L412.37,228.47 L412.81,228.55 L413.26,228.62 L413.71,228.70 L414.15,228.77 L414.60,228.85 L415.05,228.93 L415.49,229.00 L415.94,229.07 L416.39,229.15 L416.84,229.22 L417.28,229.30 L417.73,229.37 L418.18,229.44 L418.62,229.51 L419.07,229.59 L419.52,229.66 L419.97,229.73 L420.41,229.80 L420.86,229.87 L421.31,229.94 L421.75,230.01 L422.20,230.08 L422.65,230.15 L423.09,230.21 L423.54,230.28 L423.99,230.35 L424.44,230.42 L424.88,230.48 L425.33,230.55 L425.78,230.62 L426.22,230.68 L426.67,230.75 L427.12,230.81 L427.57,230.88 L428.01,230.94 L428.46,231.00 L428.91,231.07 L429.35,231.13 L429.80,231.19 L430.25,231.25 L430.69,231.32 L431.14,231.38 L431.59,231.44 L432.04,231.50 L432.48,231.56 L432.93,231.62 L433.38,231.68 L433.82,231.74 L434.27,231.79 L434.72,231.85 L435.17,231.91 L435.61,231.97 L436.06,232.02 L436.51,232.08 L436.95,232.14 L437.40,232.19 L437.85,232.25 L438.29,232.30 L438.74,232.36 L439.19,232.41 L439.64,232.46 L440.08,232.52 L440.53,232.57 L440.98,232.62 L441.42,232.67 L441.87,232.72 L442.32,232.77 L442.76,232.82 L443.21,232.87 L443.66,232.92 L444.11,232.97 L444.55,233.02 L445.00,233.07 L445.45,233.12 L445.89,233.17 L446.34,233.21 L446.79,233.26 L447.24,233.30 L447.68,233.35 L448.13,233.40 L448.58,233.44 L449.02,233.48 L449.47,233.53 L449.92,233.57 L450.36,233.62 L450.81,233.66 L451.26,233.70 L451.71,233.74 L452.15,233.78 L452.60,233.82 L453.05,233.86 L453.49,233.90 L453.94,233.94 L454.39,233.98 L454.84,234.02 L455.28,234.06 L455.73,234.10 L456.18,234.13 L456.62,234.17 L457.07,234.21 L457.52,234.24 L457.96,234.28 L458.41,234.31 L458.86,234.35" fill="none" stroke="#800080" stroke-width="2.6" stroke-dasharray="3.3 2.072" stroke-dashoffset="1.64"/>
<!-- legend -->
<rect x="302.6" y="24.7" width="222.4" height="143" fill="#000"/>
<rect x="286.5" y="10.5" width="223" height="143" fill="#fff" stroke="#444" stroke-width="1"/>
<line x1="297" y1="39" x2="327" y2="39" stroke="#0000ff" stroke-width="0.68"/>
<line x1="299.4" y1="82" x2="327" y2="82" stroke="#ff0000" stroke-width="0.68" stroke-dasharray="5.55 3.1"/>
<line x1="297" y1="125" x2="327" y2="125" stroke="#800080" stroke-width="2" stroke-dasharray="3.3 2.1" stroke-dashoffset="1.1"/>
<g id="txt" filter="url(#idf)">
<text x="351.6" y="44">Winter Rate</text>
<text x="351.6" y="87.2">Summer Rate</text>
<text x="351.6" y="129.8">Modulated Rate</text>
<text x="462.9" y="129.8">20</text>
<path d="M455.5,123.8 V129.2 M453,125.1 L458,127.9 M458,125.1 L453,127.9" stroke="#000" stroke-width="0.75" fill="none"/>
<!-- axis labels -->
<text x="56.5" y="56.8" text-anchor="middle">Rate</text>
<text x="57.9" y="79" text-anchor="middle">(counts/day/kg)</text>
<text x="520.8" y="234" text-anchor="middle">Recoil Energy</text>
<text x="523.7" y="256.5" text-anchor="middle">(keV)</text>
<path d="M37.2,277.25 H45.5 M37.2,313.6 H45.5" stroke="#000" stroke-width="0.85" fill="none"/>
<!-- tick labels -->
<g text-anchor="middle">
<text x="147.6" y="257.4">1</text>
<text x="236.9" y="257.4">2</text>
<text x="326.2" y="257.4">3</text>
<text x="415.5" y="257.4">4</text>
</g>
<g text-anchor="end">
<text x="55.2" y="98.5">8</text>
<text x="55.2" y="135.2">6</text>
<text x="55.2" y="171.9">4</text>
<text x="55.2" y="208.7">2</text>
<text x="55.2" y="282">2</text>
<text x="55.2" y="318.7">4</text>
</g>
</g>
</svg>
</body></html>
